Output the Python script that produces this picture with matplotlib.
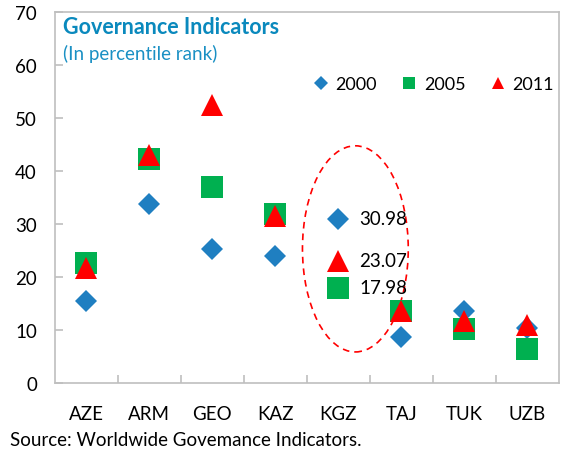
import matplotlib.pyplot as plt
from matplotlib.patches import Ellipse
from matplotlib.lines import Line2D

plt.rcParams['font.family'] = ['Lato', 'DejaVu Sans']

# Data
countries = ["AZE", "ARM", "GEO", "KAZ", "KGZ", "TAJ", "TUK", "UZB"]
y2000 = [15.5, 33.7, 25.3, 23.9, 30.98, 8.6, 13.5, 10.3]
y2005 = [22.6, 42.2, 36.9, 31.8, 17.98, 13.5, 10.2, 6.4]
y2011 = [21.7, 43.0, 52.5, 31.5, 23.07, 13.6, 11.6, 11.0]
kgz_labels = ["30.98", "23.07", "17.98"]

blue = "#1f7fc1"
green = "#00b050"
red = "#ff0000"
gray = "#bfbfbf"

fig = plt.figure(figsize=(5.61, 4.56), dpi=100)
ax = fig.add_axes([0.098, 0.158, 0.898, 0.8135])

x = list(range(len(countries)))
ax.plot(x, y2000, "D", color=blue, markersize=11.7, markeredgewidth=0, zorder=3)
ax.plot(x, y2005, "s", color=green, markersize=16.5, markeredgewidth=0, zorder=4)
ax.plot(x, y2011, "^", color=red, markersize=16.5, markeredgewidth=0, zorder=5)

# KGZ value labels
i = countries.index("KGZ")
for val, lab in zip([y2000[i], y2011[i], y2005[i]], kgz_labels):
    ax.text(i + 0.33, val, lab, fontsize=13.5, va="center", ha="left", zorder=6)

# dashed ellipse around KGZ
ax.add_patch(Ellipse((i + 0.27, 25.3), 1.68, 38.9, fill=False,
                     edgecolor=red, linestyle=(0, (4, 3)), linewidth=1.2, zorder=2))

ax.set_xlim(-0.5, len(countries) - 0.5)
ax.set_ylim(0, 70)
ax.set_yticks(range(0, 71, 10))
ax.set_xticks(x)
ax.set_xticklabels(countries)
ax.set_xticks([k + 0.5 for k in range(len(countries) - 1)], minor=True)
ax.tick_params(axis="x", which="major", length=0, pad=16, labelsize=13.5)
ax.tick_params(axis="x", which="minor", direction="in", length=6, color=gray, width=1.2)
ax.tick_params(axis="y", direction="in", length=6, color=gray, width=1.2, pad=13, labelsize=13.5)
for s in ax.spines.values():
    s.set_color(gray)
    s.set_linewidth(1.2)

# title
ax.text(0.015, 0.99, "Governance Indicators", transform=ax.transAxes, fontsize=15.5,
        fontweight="bold", color="#0a89bd", va="top", ha="left")
ax.text(0.015, 0.915, "(In percentile rank)", transform=ax.transAxes, fontsize=13.5,
        color="#1a90c4", va="top", ha="left")

# legend
handles = [
    Line2D([], [], marker="D", color=blue, linestyle="none", markersize=7, markeredgewidth=0),
    Line2D([], [], marker="s", color=green, linestyle="none", markersize=9, markeredgewidth=0),
    Line2D([], [], marker="^", color=red, linestyle="none", markersize=9, markeredgewidth=0),
]
ax.legend(handles, ["2000", "2005", "2011"], ncol=3, frameon=False, fontsize=13,
          loc="center", bbox_to_anchor=(0.75, 0.806), handletextpad=0.3,
          columnspacing=1.3, handlelength=1.0)

fig.text(0.018, 1 - 441 / 456, "Source: Worldwide Govemance Indicators.", fontsize=13.5,
         va="center", ha="left")

fig.savefig("out.png", dpi=100)
